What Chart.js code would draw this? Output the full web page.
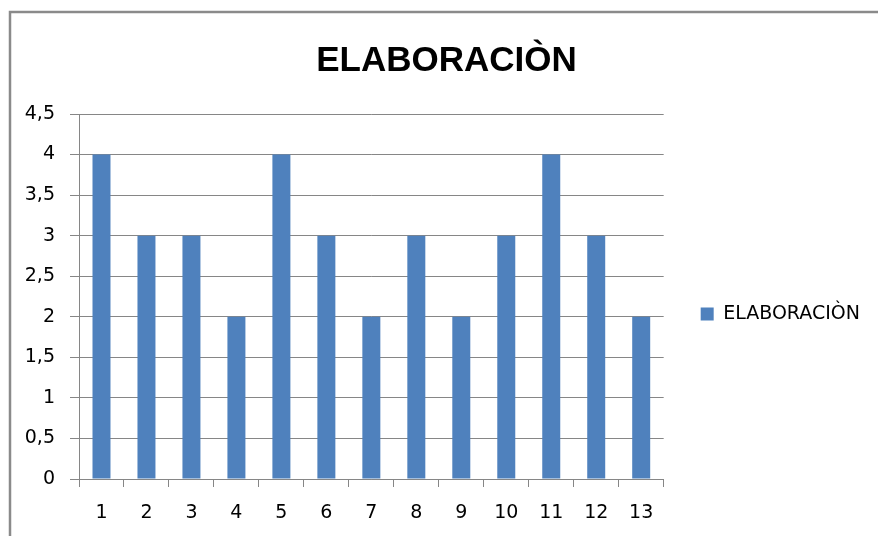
<!DOCTYPE html>
<html>
<head>
<meta charset="utf-8">
<script src="https://cdn.jsdelivr.net/npm/chart.js@4/dist/chart.umd.min.js"></script>
<style>
  html, body { margin: 0; padding: 0; background: #fff; }
  #wrap { width: 878px; height: 536px; position: relative; }
</style>
</head>
<body>
<div id="wrap"><canvas id="myChart" width="878" height="536"></canvas></div>
<script>
const categories = ["1", "2", "3", "4", "5", "6", "7", "8", "9", "10", "11", "12", "13"];
const seriesName = "ELABORACIÒN";
const values = [4, 3, 3, 2, 4, 3, 2, 3, 2, 3, 4, 3, 2];
const yTicks = [0, 0.5, 1, 1.5, 2, 2.5, 3, 3.5, 4, 4.5];

// grey frame of the chart object (left + top edge visible)
const framePlugin = {
    id: "frame",
    beforeDraw(chart) {
        const ctx = chart.ctx;
        ctx.save();
        ctx.strokeStyle = "#8a8a8a";
        ctx.lineWidth = 2.5;
        ctx.beginPath();
        ctx.moveTo(10, 540);
        ctx.lineTo(10, 12);
        ctx.lineTo(880, 12);
        ctx.stroke();
        ctx.restore();
    }
};

const tickFont = { family: "DejaVu Sans", size: 19 };

const ctx = document.getElementById("myChart").getContext("2d");

new Chart(ctx, {
    type: "bar",
    data: {
        labels: categories,
        datasets: [{
            label: seriesName,
            data: values,
            backgroundColor: "#4F81BD",
            borderWidth: 0,
            categoryPercentage: 1,
            barPercentage: 0.4
        }]
    },
    options: {
        responsive: false,
        animation: false,
        devicePixelRatio: 1,
        layout: { padding: { top: 40, bottom: 0, left: 23, right: 8 } },
        plugins: {
            title: {
                display: true,
                text: seriesName,
                color: "#000",
                font: { family: "Liberation Sans, Arial", size: 35, weight: "bold" },
                padding: { top: 0, bottom: 32 }
            },
            legend: {
                position: "right",
                fullSize: false,
                title: { display: true, text: " ", padding: 6, font: tickFont },
                labels: {
                    color: "#000",
                    font: tickFont,
                    boxWidth: 13,
                    boxHeight: 13,
                    padding: 37
                }
            },
            tooltip: { enabled: false }
        },
        scales: {
            x: {
                afterFit(scale) { scale.height = 57; },
                grid: {
                    offset: true,
                    drawOnChartArea: false,
                    color: "#868686",
                    tickLength: 8
                },
                border: { color: "#868686" },
                ticks: {
                    color: "#000",
                    font: tickFont,
                    padding: 15,
                    maxRotation: 0
                }
            },
            y: {
                min: 0,
                max: 4.5,
                afterFit(scale) { scale.width = 56; },
                afterBuildTicks(scale) { scale.ticks = yTicks.map(v => ({ value: v })); },
                grid: { color: "#868686", tickLength: 9 },
                border: { color: "#868686" },
                ticks: {
                    color: "#000",
                    font: tickFont,
                    padding: 15,
                    callback: v => String(v).replace(".", ",")
                }
            }
        }
    },
    plugins: [framePlugin]
});
</script>
</body>
</html>
